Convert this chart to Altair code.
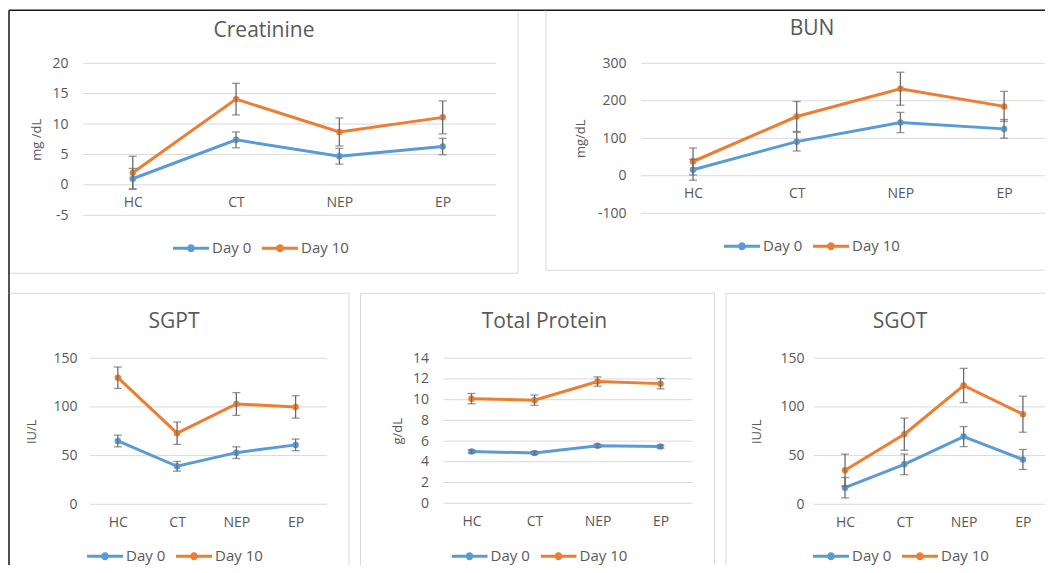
import altair as alt
import pandas as pd

groups = ["HC", "CT", "NEP", "EP"]
series = ["Day 0", "Day 10"]

creat_d0 = [1.0, 7.4, 4.7, 6.3]
creat_d0_err = [1.7, 1.3, 1.3, 1.35]
creat_d10 = [2.0, 14.1, 8.7, 11.1]
creat_d10_err = [2.7, 2.6, 2.3, 2.7]

bun_d0 = [16, 91, 142, 125]
bun_d0_err = [28, 25, 27, 25]
bun_d10 = [38, 158, 232, 185]
bun_d10_err = [36, 40, 44, 40]

sgpt_d0 = [65, 39, 53, 61]
sgpt_d0_err = [6, 5, 6, 6]
sgpt_d10 = [130, 73, 103, 100]
sgpt_d10_err = [11, 11.5, 11.7, 11.5]

tp_d0 = [5.0, 4.85, 5.55, 5.47]
tp_d0_err = [0.15, 0.15, 0.15, 0.15]
tp_d10 = [10.1, 9.95, 11.75, 11.55]
tp_d10_err = [0.5, 0.5, 0.45, 0.5]

sgot_d0 = [17, 41, 69.5, 46]
sgot_d0_err = [10.5, 10.6, 10.3, 10.3]
sgot_d10 = [35, 72, 122, 92.5]
sgot_d10_err = [16.5, 16.5, 17.6, 18.5]

BLUE = "#5B9BD5"
ORANGE = "#ED7D31"
TXT = "#595959"
GRID = "#d9d9d9"
ERR = "#6b6b6b"
FONT = "Open Sans"
LEG_SYMBOL = ("M-1,-0.083H1V0.083H-1Z "
              "M0.22,0A0.22,0.22,0,1,1,-0.22,0A0.22,0.22,0,1,1,0.22,0Z")


def make_df(d0, e0, d10, e10):
    rows = []
    for s, vals, errs in ((series[0], d0, e0), (series[1], d10, e10)):
        for i, g in enumerate(groups):
            rows.append({"group": g, "idx": i, "series": s, "value": vals[i],
                         "lo": vals[i] - errs[i], "hi": vals[i] + errs[i]})
    return pd.DataFrame(rows)


def rule(one, color, width, **enc):
    return alt.Chart(one).mark_rule(color=color, strokeWidth=width).encode(
        **{k: alt.value(v) for k, v in enc.items()})


def panel(title, ylabel, d0, e0, d10, e10, W, H, xpad, xalign,
          ydom, yvals, ylabpad, ytitlepad, tdx, toff, lx, ly,
          fl, ft, fr, fb, gext=0, open_right=False, open_bottom=False,
          black_top=0, black_left=0):
    df = make_df(d0, e0, d10, e10)
    y0 = H - (0 - ydom[0]) * H / (ydom[1] - ydom[0])
    xscale = alt.Scale(type="point", domain=groups, padding=xpad,
                       align=xalign)
    yscale = alt.Scale(domain=ydom, nice=False, zero=False)
    cscale = alt.Scale(domain=series, range=[BLUE, ORANGE])
    xenc = alt.X("group:N", scale=xscale, sort=groups,
                 axis=alt.Axis(title=None, orient="bottom",
                               offset=-(H - y0), labelPadding=11,
                               ticks=False, domain=False, grid=False,
                               labelAngle=0, labelFont=FONT,
                               labelFontSize=14, labelColor=TXT))
    yaxis = alt.Axis(values=yvals, grid=False, domain=False,
                     ticks=False, labelPadding=ylabpad,
                     labelExpr="'' + datum.value",
                     labelFont=FONT, labelFontSize=14, labelColor=TXT,
                     title=ylabel, titleFont=FONT, titleFontSize=13,
                     titleFontWeight="normal", titleColor=TXT,
                     titlePadding=ytitlepad)
    legend = alt.Legend(
        title=None, orient="none", legendX=lx, legendY=ly,
        direction="horizontal", symbolType=LEG_SYMBOL,
        symbolSize=1296, symbolStrokeWidth=0, symbolOpacity=1,
        clipHeight=16, labelFont=FONT, labelFontSize=15, labelColor=TXT,
        labelOffset=3, columnPadding=10, padding=0)
    cenc = alt.Color("series:N", scale=cscale, legend=legend)

    grid = alt.Chart(pd.DataFrame({"v": yvals})).mark_rule(
        color=GRID, strokeWidth=1).encode(
        y=alt.Y("v:Q", scale=yscale, axis=yaxis),
        x=alt.value(-gext), x2=alt.value(W))

    base = alt.Chart(df)
    line = base.mark_line(strokeWidth=3).encode(
        x=xenc, y=alt.Y("value:Q", scale=yscale, axis=yaxis),
        color=cenc, order=alt.Order("idx:Q"))
    pts = base.mark_circle(size=42, opacity=1).encode(
        x=xenc, y=alt.Y("value:Q", scale=yscale, axis=yaxis), color=cenc)
    err = base.mark_rule(color=ERR, strokeWidth=1.3).encode(
        x=xenc, y=alt.Y("lo:Q", scale=yscale, axis=yaxis), y2="hi:Q")
    tlo = base.mark_tick(color=ERR, thickness=1.3, size=8,
                         orient="horizontal").encode(
        x=xenc, y=alt.Y("lo:Q", scale=yscale, axis=yaxis))
    thi = base.mark_tick(color=ERR, thickness=1.3, size=8,
                         orient="horizontal").encode(
        x=xenc, y=alt.Y("hi:Q", scale=yscale, axis=yaxis))

    one = alt.Data(values=[{"k": 1}])
    right = W if open_right else fr
    frames = [rule(one, GRID, 1, x=fl, x2=right, y=ft),
              rule(one, GRID, 1, x=fl, y=ft, y2=fb)]
    if not open_right:
        frames.append(rule(one, GRID, 1, x=fr, y=ft, y2=fb))
    if not open_bottom:
        frames.append(rule(one, GRID, 1, x=fl, x2=fr, y=fb))
    if black_top:
        frames.append(rule(one, "#1a1a1a", 1.5, x=fl,
                           x2=right + black_top - 1, y=ft))
    if black_left:
        frames.append(rule(one, "#1a1a1a", 1.5, x=fl, y=ft,
                           y2=fb + black_left - 1))

    return alt.layer(*frames, grid, line, pts, err, tlo, thi).properties(
        width=W, height=H,
        title=alt.TitleParams(text=title, font=FONT, fontSize=21,
                              fontWeight="normal", color=TXT,
                              anchor="middle", frame="group",
                              offset=toff, dx=tdx),
    )


A = panel("Creatinine", "mg /dL", creat_d0, creat_d0_err, creat_d10,
          creat_d10_err, 406, 152, 0.465, 0.445, [-5, 20],
          [-5, 0, 5, 10, 15, 20], 22, 8.5, -29, -31, 83, 177,
          fl=-81, ft=-53, fr=428, fb=210, gext=7,
          black_top=29, black_left=21)
B = panel("BUN", "mg/dL", bun_d0, bun_d0_err, bun_d10, bun_d10_err,
          406, 150, 0.4576, 0.548, [-100, 300],
          [-100, 0, 100, 200, 300], 15, 10, -32, -29.5, 83, 175,
          fl=-95, ft=-53, fr=420, fb=207, open_right=True, black_top=1)
C = panel("SGPT", "IU/L", sgpt_d0, sgpt_d0_err, sgpt_d10, sgpt_d10_err,
          237, 146, 0.5, 0.47, [0, 150], [0, 50, 100, 150], 13, 14,
          -34.5, -39, -3, 190,
          fl=-81, ft=-65, fr=259, fb=220, open_bottom=True, black_left=1)
D = panel("Total Protein", "g/dL", tp_d0, tp_d0_err, tp_d10, tp_d10_err,
          249, 145, 0.476, 0.467, [0, 14], [0, 2, 4, 6, 8, 10, 12, 14],
          15, 7.5, -23.5, -39, 8, 190,
          fl=-83, ft=-65, fr=271, fb=220, open_bottom=True)
E = panel("SGOT", "IU/L", sgot_d0, sgot_d0_err, sgot_d10, sgot_d10_err,
          234, 146, 0.473, 0.553, [0, 150], [0, 50, 100, 150], 10, 16,
          -31, -39, -1, 190,
          fl=-88, ft=-65, fr=240, fb=220, open_right=True, open_bottom=True)

top = alt.hconcat(A, B, spacing=-2).resolve_scale(
    color="independent").resolve_legend(color="independent")
bottom = alt.hconcat(C, D, E, spacing=9.5).resolve_scale(
    color="independent").resolve_legend(color="independent")

chart = alt.vconcat(top, bottom, spacing=-2).resolve_scale(
    color="independent").resolve_legend(color="independent").properties(
    padding={"left": 0, "top": 1.25, "right": -17, "bottom": -14},
    background="white",
).configure_view(strokeWidth=0)

chart.save("out.html", embed_options={"renderer": "svg", "actions": False})
